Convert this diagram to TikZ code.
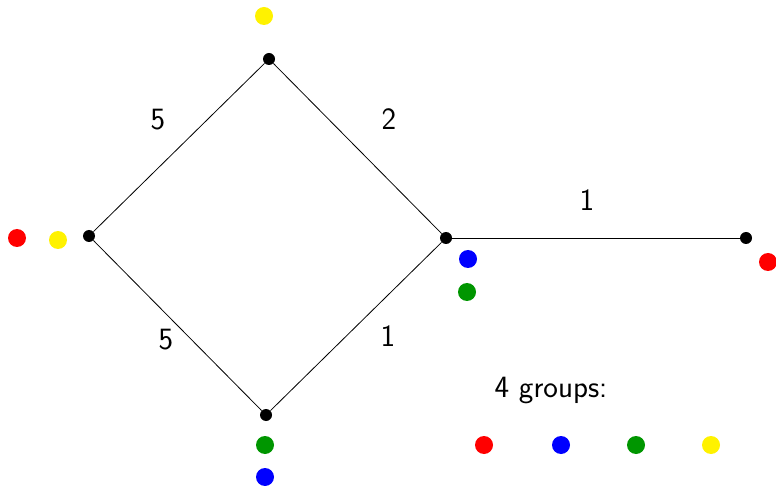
\documentclass[tikz,border=0pt]{standalone}
\usepackage{xcolor}
\definecolor{dgreen}{RGB}{0,150,0}
\begin{document}
\begin{tikzpicture}[x=1pt,y=-1pt,
  vert/.style={circle,fill=black,inner sep=0pt,minimum size=12pt},
  grp/.style={circle,fill=#1,inner sep=0pt,minimum size=18pt},
  wlabel/.style={font=\sffamily\fontsize{31}{36}\selectfont},
  edge/.style={line width=0.8pt}]
\useasboundingbox (0,0) rectangle (776,486);
\node[vert] (t) at (269,59) {};
\node[vert] (l) at (89,236) {};
\node[vert] (r) at (446,238) {};
\node[vert] (b) at (266,415) {};
\node[vert] (f) at (746,238) {};
\draw[edge] (l) -- (t);
\draw[edge] (t) -- (r);
\draw[edge] (l) -- (b);
\draw[edge] (b) -- (r);
\draw[edge] (r) -- (f);
\node[wlabel] (w1) at (158,120) {5};
\node[wlabel] (w2) at (389,119) {2};
\node[wlabel] (w3) at (587,200) {1};
\node[wlabel] (w4) at (166,340) {5};
\node[wlabel] (w5) at (388,336) {1};
\node[wlabel] (leg) at (551,390) {4 groups:};
\node[grp=yellow] (ty) at (264,16) {};
\node[grp=red] (lr) at (17,238) {};
\node[grp=yellow] (ly) at (58,240) {};
\node[grp=blue] (rb) at (468,259) {};
\node[grp=dgreen] (rg) at (467,292) {};
\node[grp=red] (fr) at (768,262) {};
\node[grp=dgreen] (bg) at (265,445) {};
\node[grp=blue] (bb) at (265,477) {};
\node[grp=red] (g1) at (484,445) {};
\node[grp=blue] (g2) at (561,445) {};
\node[grp=dgreen] (g3) at (636,445) {};
\node[grp=yellow] (g4) at (711,445) {};
\end{tikzpicture}
\end{document}
